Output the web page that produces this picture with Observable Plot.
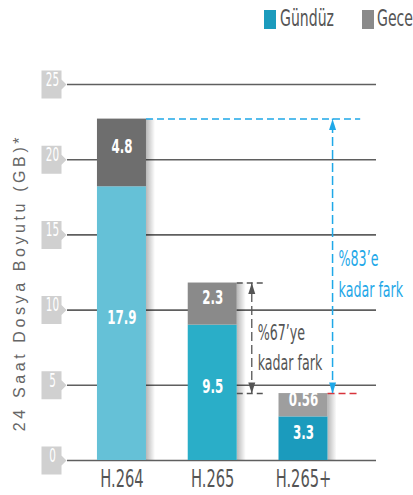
<!DOCTYPE html>
<html>
<head>
<meta charset="utf-8">
<script src="https://cdn.jsdelivr.net/npm/d3@7"></script>
<script src="https://cdn.jsdelivr.net/npm/@observablehq/plot@0.6"></script>
<style>
  body { margin: 0; background: #fff; }
  #wrap { position: relative; width: 413px; height: 495px; overflow: hidden; }
  #legend { position: absolute; top: 0; left: 0; width: 413px; height: 40px; z-index: 2; }
  .sw { position: absolute; top: 10px; width: 12px; height: 19px; }
  .lt { position: absolute; top: 4px; font-family: 'DejaVu Sans Condensed','DejaVu Sans',sans-serif; font-stretch: condensed; font-size: 23px; color: #555; line-height: 28px; transform: scaleX(0.68); transform-origin: 0 0; white-space: nowrap; }
</style>
</head>
<body>
<div id="wrap"><div id="legend"></div></div>
<script>
// ---- data ----
const codecs = ["H.264", "H.265", "H.265+"];
const gunduz = [17.9, 9.5, 3.3];        // Gündüz labels (GB)
const gece = [4.8, 2.3, 0.56];          // Gece labels (GB)
// bar heights as drawn in the picture (GB scale)
const gunduzDrawn = [18.2, 9.0, 2.9];
const totalDrawn = [22.7, 11.8, 4.45];
const seriesNames = ["Gündüz", "Gece"];
const yTicks = [0, 5, 10, 15, 20, 25];
const yTitle = "24 Saat Dosya Boyutu (GB)*";
const diffNear = "%67’ye\nkadar fark";
const diffFar = "%83’e\nkadar fark";

// ---- styles ----
const COND = "'DejaVu Sans Condensed','DejaVu Sans',sans-serif";
const dayColors = ["#65c1d7", "#2aaec8", "#1b9bbd"];
const nightColors = ["#6e6e6e", "#8a8a8a", "#9e9e9e"];
const legendColors = ["#1b9bbd", "#8a8a8a"];
const blue = "#1fa8e8";
const hw = 0.27;
const xDomain = [-0.6, 2.804];

// ---- derived table ----
const rows = codecs.flatMap((c, i) => [
  {i, codec: c, y1: 0, y2: gunduzDrawn[i], v: gunduz[i], fill: dayColors[i]},
  {i, codec: c, y1: gunduzDrawn[i], y2: totalDrawn[i], v: gece[i], fill: nightColors[i]}
]);

const tag = {draw(ctx) {
  ctx.moveTo(-10, -14); ctx.lineTo(10, -14); ctx.lineTo(10, -5); ctx.lineTo(15, 0);
  ctx.lineTo(10, 5); ctx.lineTo(10, 14); ctx.lineTo(-10, 14); ctx.closePath();
}};
const head = {draw(ctx) {
  ctx.moveTo(0, 0); ctx.lineTo(-3.5, 11); ctx.lineTo(3.5, 11); ctx.closePath();
}};

const xFar = 2.32, xNear = 1.43;

const plot = Plot.plot({
  width: 413,
  height: 495,
  marginTop: 84,
  marginBottom: 35,
  marginLeft: 67,
  marginRight: 37,
  style: {fontFamily: COND, background: "transparent", overflow: "visible"},
  x: {type: "linear", domain: xDomain, axis: null},
  y: {domain: [0, 25], axis: null},
  marks: [
    Plot.ruleY(yTicks, {stroke: "#5f5f5f", strokeWidth: 1.6}),
    Plot.dot(yTicks, {x: () => xDomain[0], y: d => d, dx: -16, symbol: tag, fill: "#d0d0d0", stroke: null}),
    Plot.text(yTicks, {ariaLabel: () => "ticklab", x: () => xDomain[0], y: d => d, dx: -15, dy: 1, text: d => String(d), fill: "#fff", fontSize: 20, fontFamily: COND}),
    Plot.rect(codecs.map((c, i) => ({i, t: totalDrawn[i]})), {x1: d => d.i + hw, x2: d => d.i + hw + 0.1, y1: 0, y2: "t", fill: "url(#shadowGrad)"}),
    Plot.rect(rows, {x1: d => d.i - hw, x2: d => d.i + hw, y1: "y1", y2: "y2", fill: "fill"}),
    Plot.text(rows, {ariaLabel: () => "barlab", x: "i", y: d => (d.y1 + d.y2) / 2, text: d => String(d.v), fill: "#fff", fontSize: 20, fontWeight: "bold", fontFamily: COND}),
    Plot.text(codecs, {ariaLabel: () => "xlab", x: (d, i) => i, frameAnchor: "bottom", dy: 26, text: d => d, fill: "#555", fontSize: 24, fontFamily: COND}),
    Plot.ruleY([totalDrawn[0]], {x1: 0 + hw, x2: 2.63, stroke: blue, strokeWidth: 1.5, strokeDasharray: "7,4"}),
    Plot.ruleY([totalDrawn[2]], {x1: 2 + hw, x2: 2.63, stroke: "#d8343c", strokeWidth: 1.5, strokeDasharray: "7,4"}),
    Plot.ruleX([xFar], {y1: totalDrawn[2], y2: totalDrawn[0], stroke: blue, strokeWidth: 1.5, strokeDasharray: "9,4"}),
    Plot.dot([{y: totalDrawn[0], r: 0}, {y: totalDrawn[2], r: 180}], {x: () => xFar, y: "y", rotate: "r", symbol: head, fill: blue, stroke: null}),
    Plot.text([diffFar], {ariaLabel: () => "note", x: () => xFar + 0.066, y: () => (totalDrawn[0] + totalDrawn[2]) / 2, dy: 15, text: d => d, textAnchor: "start", fill: blue, fontSize: 21, lineHeight: 1.5, fontFamily: COND}),
    Plot.ruleY([totalDrawn[1], totalDrawn[2]], {x1: 1 + hw, x2: 1.57, stroke: "#555", strokeWidth: 1.5, strokeDasharray: "6,4"}),
    Plot.ruleX([xNear], {y1: totalDrawn[2], y2: totalDrawn[1], stroke: "#555", strokeWidth: 1.3, strokeDasharray: "9,4"}),
    Plot.dot([{y: totalDrawn[1], r: 0}, {y: totalDrawn[2], r: 180}], {x: () => xNear, y: "y", rotate: "r", symbol: head, fill: "#555", stroke: null}),
    Plot.text([diffNear], {ariaLabel: () => "note", x: () => xNear + 0.065, y: () => (totalDrawn[1] + totalDrawn[2]) / 2, dy: 7, text: d => d, textAnchor: "start", fill: "#555", fontSize: 21, lineHeight: 1.45, fontFamily: COND}),
    Plot.text([yTitle], {ariaLabel: () => "ytitle", x: () => xDomain[0], y: () => 12.5, dx: -48, dy: 10, rotate: -90, text: d => d, fill: "#666", fontSize: 16, fontFamily: "'Liberation Sans', Arial, sans-serif"})
  ]
});

const ns = "http://www.w3.org/2000/svg";
const defs = document.createElementNS(ns, "defs");
defs.innerHTML = '<linearGradient id="shadowGrad" x1="0" x2="1" y1="0" y2="0">' +
  '<stop offset="0" stop-color="#000" stop-opacity="0.28"/>' +
  '<stop offset="1" stop-color="#000" stop-opacity="0"/></linearGradient>';
plot.insertBefore(defs, plot.firstChild);

function textsFor(label) {
  const els = Array.from(plot.querySelectorAll(`[aria-label="${label}"]`));
  return els.flatMap(e => e.tagName.toLowerCase() === "text" ? [e] : Array.from(e.querySelectorAll("text")));
}
// horizontally condense texts (narrow display font look)
function condense(label, s) {
  textsFor(label).forEach(t => {
    let tr = t.getAttribute("transform") || "";
    const x = t.getAttribute("x"), y = t.getAttribute("y");
    if (x !== null || y !== null) {
      tr += ` translate(${parseFloat(x) || 0},${parseFloat(y) || 0})`;
      t.removeAttribute("x"); t.removeAttribute("y");
    }
    t.setAttribute("transform", tr + ` scale(${s},1)`);
  });
}
condense("ticklab", 0.58);
condense("barlab", 0.66);
condense("xlab", 0.68);
condense("note", 0.67);
textsFor("ytitle").forEach(t => t.setAttribute("letter-spacing", "3.6"));

document.getElementById("wrap").appendChild(plot);

const leg = document.getElementById("legend");
const legX = [[264, 280], [362, 377]];
seriesNames.forEach((name, k) => {
  const sw = document.createElement("div");
  sw.className = "sw"; sw.style.left = legX[k][0] + "px"; sw.style.background = legendColors[k];
  const lt = document.createElement("div");
  lt.className = "lt"; lt.style.left = legX[k][1] + "px"; lt.textContent = name;
  leg.appendChild(sw); leg.appendChild(lt);
});
</script>
</body>
</html>
